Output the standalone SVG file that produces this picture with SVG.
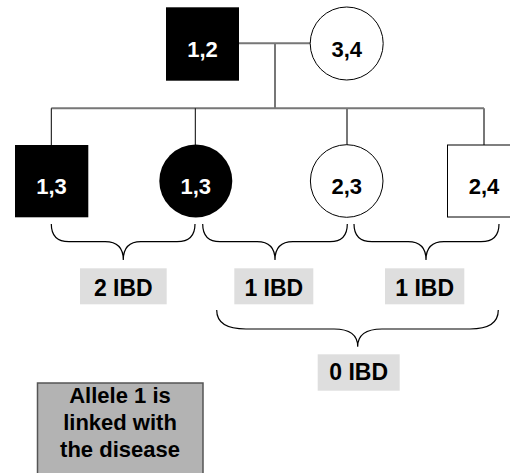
<svg xmlns="http://www.w3.org/2000/svg" width="510" height="473" viewBox="0 0 510 473">
<style>
text{font-family:"Liberation Sans",Arial,sans-serif;font-weight:bold;font-size:22px;text-anchor:middle}
.w{fill:#fff}
.k{fill:#000}
.ibd{font-size:23px}
.open{fill:#fff;stroke:#000;stroke-width:1}
.aff{fill:#000;stroke:none}
.gl{stroke:#777;stroke-width:2;fill:none}
.bl{stroke:#000;stroke-width:1;fill:none}
.brace{stroke:#000;stroke-width:1.2;fill:none}
.lab{fill:#dedede}
</style>
<rect width="510" height="473" fill="#fff"/>
<g id="connectors">
<path class="gl" d="M239,43.3 H310 M275,43.3 V108.3 M51.3,108.3 H484 M347,108.3 V145 M484,108.3 V145"/>
<path class="bl" d="M51.3,108.3 V145 M195.3,108.3 V145"/>
</g>
<g id="father"><rect class="aff" x="166" y="7.3" width="73" height="73.4"/><text class="w" x="202.5" y="56.7">1,2</text></g>
<g id="mother"><circle class="open" cx="346.7" cy="43.5" r="36.5"/><text class="k" x="346.7" y="56.7">3,4</text></g>
<g id="child1"><rect class="aff" x="15" y="145" width="73.3" height="72.3"/><text class="w" x="51.5" y="194">1,3</text></g>
<g id="child2"><circle class="aff" cx="195.8" cy="181" r="36.5"/><text class="w" x="195.8" y="194">1,3</text></g>
<g id="child3"><circle class="open" cx="346.7" cy="181" r="36.3"/><text class="k" x="346.7" y="194">2,3</text></g>
<g id="child4"><rect class="open" x="447.5" y="145" width="73" height="72"/><text class="k" x="484" y="194">2,4</text></g>
<g id="braces">
<path class="brace" d="M51.3,224 Q51.3,241.7 69,241.7 H105 Q123.3,241.7 123.3,260 Q123.3,241.7 141,241.7 H177 Q195,241.7 195,224"/>
<path class="brace" d="M202.7,224 Q202.7,241.7 220,241.7 H257 Q275,241.7 275,260 Q275,241.7 293,241.7 H330 Q347.3,241.7 347.3,224"/>
<path class="brace" d="M354,224 Q354,241.7 372,241.7 H408 Q426,241.7 426,260 Q426,241.7 444,241.7 H481 Q499,241.7 499,224"/>
<path class="brace" d="M216.7,310 Q216.7,329 246,329 H334 Q357.7,329 357.7,346.7 Q357.7,329 382,329 H470 Q498.3,329 498.3,310"/>
</g>
<g id="ibd2"><rect class="lab" x="80" y="268.3" width="86.7" height="36"/><text class="k ibd" x="123.3" y="295.5">2 IBD</text></g>
<g id="ibd1a"><rect class="lab" x="234.3" y="268.3" width="79" height="36"/><text class="k ibd" x="273.8" y="295.5">1 IBD</text></g>
<g id="ibd1b"><rect class="lab" x="385" y="268.3" width="79.3" height="36"/><text class="k ibd" x="424.7" y="295.5">1 IBD</text></g>
<g id="ibd0"><rect class="lab" x="317.7" y="354.3" width="82" height="36.4"/><text class="k ibd" x="358.7" y="380.3">0 IBD</text></g>
<g id="note">
<rect x="37.5" y="383" width="165.5" height="100" fill="#b3b3b3" stroke="#555" stroke-width="1.5"/>
<text class="k" x="120" y="402.7">Allele 1 is</text>
<text class="k" x="120" y="430.3">linked with</text>
<text class="k" x="120" y="457.3">the disease</text>
</g>
</svg>
